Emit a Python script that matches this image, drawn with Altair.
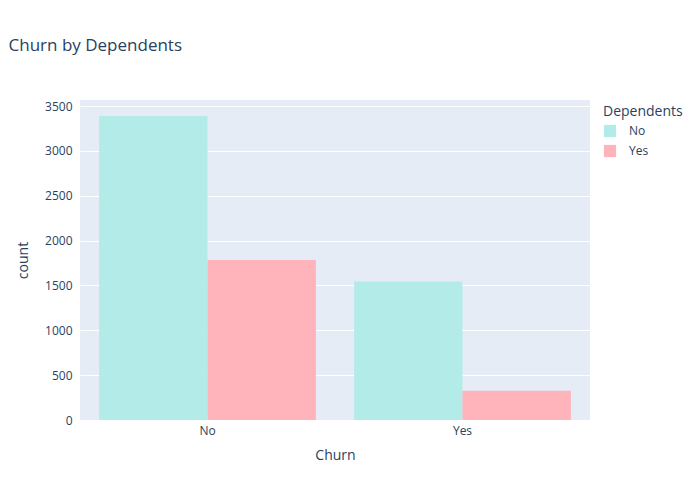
import pandas as pd
import altair as alt

churn = ["No", "No", "Yes", "Yes"]
dependents = ["No", "Yes", "No", "Yes"]
counts = [3390, 1784, 1543, 326]

df = pd.DataFrame({"Churn": churn, "Dependents": dependents, "count": counts})

font = "Open Sans"
chart = (
    alt.Chart(df, width=510, height=320)
    .mark_bar()
    .encode(
        alt.X(
            "Churn:N",
            scale=alt.Scale(paddingInner=0.15, paddingOuter=0.075),
            axis=alt.Axis(labelAngle=0, ticks=False, domain=False, grid=False,
                          labelPadding=5, titlePadding=12, labelFontSize=12,
                          titleFontSize=14, titleFontWeight="normal",
                          labelColor="#2a3f5f", titleColor="#2a3f5f"),
        ),
        alt.Y(
            "count:Q",
            scale=alt.Scale(domain=[0, 3568], nice=False),
            axis=alt.Axis(values=[0, 500, 1000, 1500, 2000, 2500, 3000, 3500],
                          format="d", ticks=False, domain=False,
                          gridColor="white", gridWidth=1, labelPadding=8,
                          titlePadding=14, labelFontSize=12, titleFontSize=14,
                          titleFontWeight="normal",
                          labelColor="#2a3f5f", titleColor="#2a3f5f"),
        ),
        alt.XOffset("Dependents:N"),
        alt.Color(
            "Dependents:N",
            scale=alt.Scale(domain=["No", "Yes"], range=["#b3ebe9", "#ffb3ba"]),
            legend=alt.Legend(orient="none", legendX=523, legendY=5,
                              symbolType="square", symbolSize=150,
                              titleFontSize=14, titleFontWeight="normal",
                              labelFontSize=12, titleColor="#2a3f5f",
                              labelColor="#2a3f5f", rowPadding=6,
                              labelOffset=12),
        ),
    )
    .properties(
        title=alt.TitleParams("Churn by Dependents", anchor="start", dx=-8,
                              offset=45, fontSize=17, fontWeight="normal",
                              color="#2a3f5f", font=font),
        autosize=alt.AutoSizeParams(type="none"),
        padding={"left": 72, "top": 92, "right": 102, "bottom": 72},
    )
    .configure(font=font)
    .configure_view(fill="#e5ecf6", stroke=None)
)

chart.save("out.html", embed_options={"renderer": "svg", "actions": False})
